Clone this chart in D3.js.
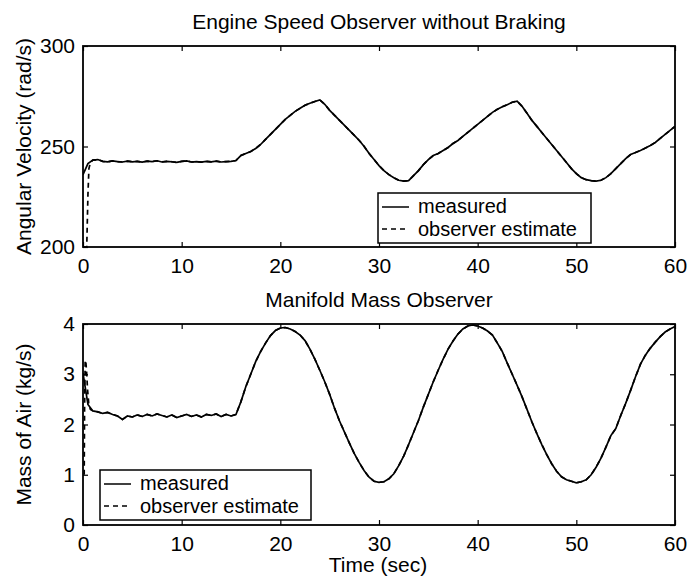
<!DOCTYPE html>
<html>
<head>
<meta charset="utf-8">
<script src="https://cdn.jsdelivr.net/npm/d3@7"></script>
<style>
  html, body { margin: 0; padding: 0; background: #fff; }
  svg text { font-family: "Liberation Sans", Arial, Helvetica, sans-serif; fill: #000; }
</style>
</head>
<body>
<svg id="chart" width="688" height="585"></svg>
<script>
// ---- data -------------------------------------------------------------
// sample instants of the recorded signals (every 0.5 s, 0 .. 60 s)
const sampleTimes = d3.range(0, 60.0001, 0.5);

// engine angular velocity, measured (rad/s); one row = 5 s
const speedMeasured = [
  236, 241.5, 243.2, 243.5, 242.6, 242.4, 242.8, 242.5, 242.3, 242.7,   // 0
  242.4, 242.6, 242.2, 242.7, 242.5, 242.9, 242.3, 242.6, 242.4, 242.1, // 5
  242.6, 242.8, 242.3, 242.5, 242.2, 242.6, 242.4, 242.7, 242.3, 242.5, // 10
  242.6, 243.0, 245.5, 246.5, 247.5, 249, 251, 253.5, 256, 258.5,       // 15
  261, 263.5, 265.5, 267.5, 269, 270.5, 271.5, 272.4, 273.2, 271,       // 20
  268, 265.5, 263, 260.5, 258, 255.5, 253, 250, 246.5, 243.5,           // 25
  240.5, 238, 236, 234.5, 233.2, 232.8, 233, 235.5, 238, 241,           // 30
  243.5, 245.5, 246.5, 248, 249.5, 251.5, 253, 255, 257, 259,           // 35
  261, 263, 265, 267, 268.5, 269.8, 270.8, 272, 272.5, 270,             // 40
  266.5, 263, 260, 257, 254, 251, 248, 245, 242, 239,                   // 45
  236.5, 234.5, 233.5, 233, 232.8, 233.2, 234.5, 236.5, 239, 241.5,     // 50
  244, 246, 247, 248, 249.2, 250.5, 252, 254, 256, 258,                 // 55
  260                                                                   // 60
];
// observer estimate start-up transient, before it locks onto the measurement
const speedEstimateStartTimes  = [0, 0.38, 0.5, 0.6, 0.75, 1.0];
const speedEstimateStartValues = [200, 200, 226, 239, 242, 243.2];

// manifold air mass, measured (kg/s); one row = 5 s
const massMeasured = [
  3.02, 2.4, 2.27, 2.25, 2.22, 2.24, 2.2, 2.17, 2.1, 2.17,        // 0
  2.15, 2.19, 2.16, 2.2, 2.17, 2.21, 2.18, 2.15, 2.19, 2.14,      // 5
  2.17, 2.2, 2.16, 2.19, 2.15, 2.2, 2.18, 2.21, 2.16, 2.2,        // 10
  2.17, 2.2, 2.45, 2.75, 3.0, 3.25, 3.45, 3.62, 3.77, 3.87,       // 15
  3.92, 3.93, 3.9, 3.85, 3.78, 3.67, 3.5, 3.3, 3.08, 2.85,        // 20
  2.6, 2.32, 2.07, 1.85, 1.63, 1.42, 1.24, 1.08, 0.95, 0.87,      // 25
  0.85, 0.86, 0.92, 1.02, 1.18, 1.37, 1.6, 1.84, 2.08, 2.35,      // 30
  2.6, 2.85, 3.08, 3.3, 3.5, 3.66, 3.8, 3.9, 3.96, 3.98,          // 35
  3.96, 3.92, 3.86, 3.78, 3.62, 3.45, 3.22, 3.0, 2.78, 2.55,      // 40
  2.3, 2.05, 1.82, 1.6, 1.4, 1.22, 1.07, 0.96, 0.9, 0.87,         // 45
  0.84, 0.86, 0.9, 1.0, 1.15, 1.33, 1.55, 1.78, 1.92, 2.18,       // 50
  2.42, 2.68, 2.95, 3.2, 3.38, 3.52, 3.64, 3.75, 3.84, 3.9,       // 55
  3.95                                                            // 60
];
const massEstimateStartTimes  = [0.12, 0.16, 0.22, 0.3, 0.38, 0.46, 0.58, 0.75, 1.0];
const massEstimateStartValues = [1.0, 2.3, 3.28, 3.22, 3.0, 2.7, 2.42, 2.3, 2.27];

const timeTicks  = [0, 10, 20, 30, 40, 50, 60];
const speedTicks = [200, 250, 300];
const massTicks  = [0, 1, 2, 3, 4];

const legendLabels = ["measured", "observer estimate"];

// ---- helpers ----------------------------------------------------------
const svg = d3.select("#chart");
const FONT = 21;
const LEGEND_FONT = 20;

function pairs(ts, vs) { return ts.map((t, i) => [t, vs[i]]); }

function estimateSeries(startTimes, startValues, measured) {
  const last = startTimes[startTimes.length - 1];
  const head = pairs(startTimes, startValues);
  const tail = pairs(sampleTimes, measured).filter(d => d[0] > last);
  return head.concat(tail);
}

function drawPanel(cfg) {
  const { left, right, top, bottom, yDomain, yTicks, series, title, titleY,
          yLabel, yLabelX, legend, clipId } = cfg;
  const x = d3.scaleLinear().domain([0, 60]).range([left, right]);
  const y = d3.scaleLinear().domain(yDomain).range([bottom, top]);
  const g = svg.append("g");

  g.append("clipPath").attr("id", clipId)
    .append("rect").attr("x", left).attr("y", top)
    .attr("width", right - left).attr("height", bottom - top);

  const line = d3.line().x(d => x(d[0])).y(d => y(d[1]));
  const plot = g.append("g").attr("clip-path", `url(#${clipId})`);

  // observer estimate (dashed) underneath, measurement (solid) on top
  plot.append("path").datum(series.estimate)
    .attr("d", line).attr("fill", "none").attr("stroke", "#000")
    .attr("stroke-width", 1.7).attr("stroke-dasharray", "5,4");
  plot.append("path").datum(series.measured)
    .attr("d", line).attr("fill", "none").attr("stroke", "#000")
    .attr("stroke-width", 1.7);

  // axes with inward ticks on all four sides
  const style = sel => {
    sel.select(".domain").remove();
    sel.selectAll(".tick line").attr("stroke", "#000").attr("stroke-width", 1.2);
    sel.selectAll("text").attr("font-size", FONT).attr("fill", "#000")
      .attr("font-family", '"Liberation Sans", Arial, sans-serif');
  };
  const fmt = d3.format("d");
  g.append("g").attr("transform", `translate(0,${bottom})`)
    .call(d3.axisBottom(x).tickValues(timeTicks).tickFormat(fmt).tickSize(-5).tickPadding(11))
    .call(style);
  g.append("g").attr("transform", `translate(0,${top})`)
    .call(d3.axisTop(x).tickValues(timeTicks).tickSize(-5).tickFormat(""))
    .call(style);
  g.append("g").attr("transform", `translate(${left},0)`)
    .call(d3.axisLeft(y).tickValues(yTicks).tickFormat(fmt).tickSize(-5).tickPadding(8))
    .call(style);
  g.append("g").attr("transform", `translate(${right},0)`)
    .call(d3.axisRight(y).tickValues(yTicks).tickSize(-5).tickFormat(""))
    .call(style);

  g.append("rect").attr("x", left).attr("y", top)
    .attr("width", right - left).attr("height", bottom - top)
    .attr("fill", "none").attr("stroke", "#000").attr("stroke-width", 1.8);

  g.append("text").attr("x", (left + right) / 2).attr("y", titleY)
    .attr("text-anchor", "middle").attr("font-size", FONT).text(title);

  g.append("text")
    .attr("transform", `translate(${yLabelX},${(top + bottom) / 2}) rotate(-90)`)
    .attr("text-anchor", "middle").attr("font-size", FONT).text(yLabel);

  // legend
  const lg = g.append("g").attr("transform", `translate(${legend.x},${legend.y})`);
  lg.append("rect").attr("width", legend.w).attr("height", 50)
    .attr("fill", "#fff").attr("stroke", "#000").attr("stroke-width", 1.5);
  const rows = [{ dy: 14, tb: 19.5, dash: null }, { dy: 36, tb: 42.5, dash: "5,4" }];
  rows.forEach((r, i) => {
    lg.append("line").attr("x1", 4).attr("x2", 31).attr("y1", r.dy).attr("y2", r.dy)
      .attr("stroke", "#000").attr("stroke-width", 1.5)
      .attr("stroke-dasharray", r.dash);
    lg.append("text").attr("x", 40).attr("y", r.tb).attr("font-size", LEGEND_FONT)
      .text(legendLabels[i]);
  });
  return { x, y };
}

// ---- top panel: engine speed -----------------------------------------
drawPanel({
  left: 83, right: 675, top: 46, bottom: 247,
  yDomain: [200, 300], yTicks: speedTicks,
  series: {
    measured: pairs(sampleTimes, speedMeasured),
    estimate: estimateSeries(speedEstimateStartTimes, speedEstimateStartValues, speedMeasured)
  },
  title: "Engine Speed Observer without Braking", titleY: 29,
  yLabel: "Angular Velocity (rad/s)", yLabelX: 31,
  legend: { x: 378, y: 193, w: 213 },
  clipId: "clip-speed"
});

// ---- bottom panel: manifold mass --------------------------------------
drawPanel({
  left: 83, right: 675, top: 324, bottom: 525,
  yDomain: [0, 4], yTicks: massTicks,
  series: {
    measured: pairs(sampleTimes, massMeasured),
    estimate: estimateSeries(massEstimateStartTimes, massEstimateStartValues, massMeasured)
  },
  title: "Manifold Mass Observer", titleY: 307,
  yLabel: "Mass of Air (kg/s)", yLabelX: 31,
  legend: { x: 100, y: 470, w: 211 },
  clipId: "clip-mass"
});

svg.append("text").attr("x", 378).attr("y", 572)
  .attr("text-anchor", "middle").attr("font-size", FONT).text("Time (sec)");
</script>
</body>
</html>
